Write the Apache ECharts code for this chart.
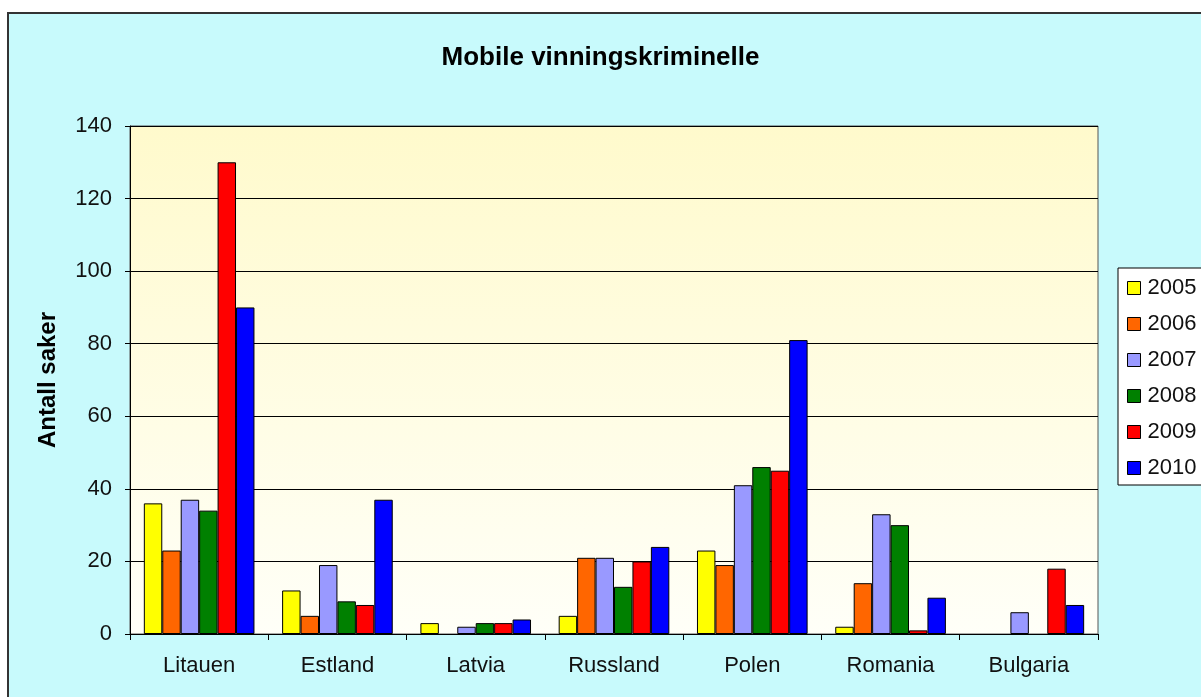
<!DOCTYPE html>
<html>
<head>
<meta charset="utf-8">
<title>Mobile vinningskriminelle</title>
<script src="https://cdn.jsdelivr.net/npm/echarts@6/dist/echarts.min.js"></script>
<style>
  html, body { margin: 0; padding: 0; background: #ffffff; }
  #chart { width: 1201px; height: 697px; }
</style>
</head>
<body>
<div id="chart"></div>
<script>
  // data
  var countries = ['Litauen', 'Estland', 'Latvia', 'Russland', 'Polen', 'Romania', 'Bulgaria'];
  var years = ['2005', '2006', '2007', '2008', '2009', '2010'];
  var colors = ['#FFFF00', '#FF6600', '#9999FF', '#008000', '#FF0000', '#0000FF'];
  var v2005 = [36, 12, 3, 5, 23, 2, 0];
  var v2006 = [23, 5, 0, 21, 19, 14, 0];
  var v2007 = [37, 19, 2, 21, 41, 33, 6];
  var v2008 = [34, 9, 3, 13, 46, 30, 0];
  var v2009 = [130, 8, 3, 20, 45, 1, 18];
  var v2010 = [90, 37, 4, 24, 81, 10, 8];
  var yTicks = [0, 20, 40, 60, 80, 100, 120, 140];

  var values = [v2005, v2006, v2007, v2008, v2009, v2010];
  var font = 'Arial, "Liberation Sans", sans-serif';

  var series = [];
  for (var i = 0; i < years.length; i++) {
    series.push({
      name: years[i],
      type: 'bar',
      // zero means no bar at all in the original
      data: values[i].map(function (v) { return v === 0 ? '-' : v; }),
      barGap: '0%',
      barCategoryGap: '20%',
      itemStyle: { color: colors[i], borderColor: '#000', borderWidth: 1 }
    });
  }

  var myChart = echarts.init(document.getElementById('chart'));
  var option = {
    backgroundColor: '#ffffff',
    animation: false,
    graphic: [{
      type: 'rect',
      z: -100,
      shape: { x: 8, y: 13, width: 1200, height: 700 },
      style: { fill: '#C8FAFC', stroke: '#333', lineWidth: 2 }
    }],
    title: {
      text: 'Mobile vinningskriminelle',
      left: 'center',
      top: 40,
      textStyle: { fontFamily: font, fontSize: 26, fontWeight: 'bold', color: '#000' }
    },
    legend: {
      orient: 'vertical',
      left: 1118,
      top: 268,
      data: years,
      backgroundColor: '#ffffff',
      borderColor: '#000',
      borderWidth: 1,
      padding: [9, 40, 6, 9],
      itemGap: 14,
      itemWidth: 13,
      itemHeight: 13,
      icon: 'rect',
      itemStyle: { borderColor: '#000', borderWidth: 1 },
      textStyle: { fontFamily: font, fontSize: 22, color: '#111', padding: [0, 0, 0, 2] }
    },
    grid: {
      left: 130,
      right: 103,
      top: 126,
      bottom: 63,
      show: true,
      borderColor: '#555',
      borderWidth: 1,
      backgroundColor: new echarts.graphic.LinearGradient(0, 0, 0, 1, [
        { offset: 0, color: '#FFFACC' },
        { offset: 1, color: '#FFFFF8' }
      ])
    },
    xAxis: {
      type: 'category',
      data: countries,
      axisLine: { lineStyle: { color: '#000', width: 1 } },
      axisTick: { show: true, length: 6, lineStyle: { color: '#000' } },
      axisLabel: { fontFamily: font, fontSize: 22, color: '#111', margin: 21 }
    },
    yAxis: {
      type: 'value',
      min: 0,
      max: yTicks[yTicks.length - 1],
      interval: yTicks[1] - yTicks[0],
      name: 'Antall saker',
      nameLocation: 'middle',
      nameGap: 70,
      nameTextStyle: { fontFamily: font, fontSize: 24, fontWeight: 'bold', color: '#000' },
      axisLine: { show: true, lineStyle: { color: '#000', width: 1 } },
      axisTick: { show: true, length: 5, lineStyle: { color: '#000' } },
      axisLabel: { fontFamily: font, fontSize: 22, color: '#111', margin: 18 },
      splitLine: { show: true, lineStyle: { color: '#000', width: 1 } }
    },
    series: series
  };
  myChart.setOption(option);

  window.onresize = function () {
    myChart.resize();
  };
</script>
</body>
</html>
